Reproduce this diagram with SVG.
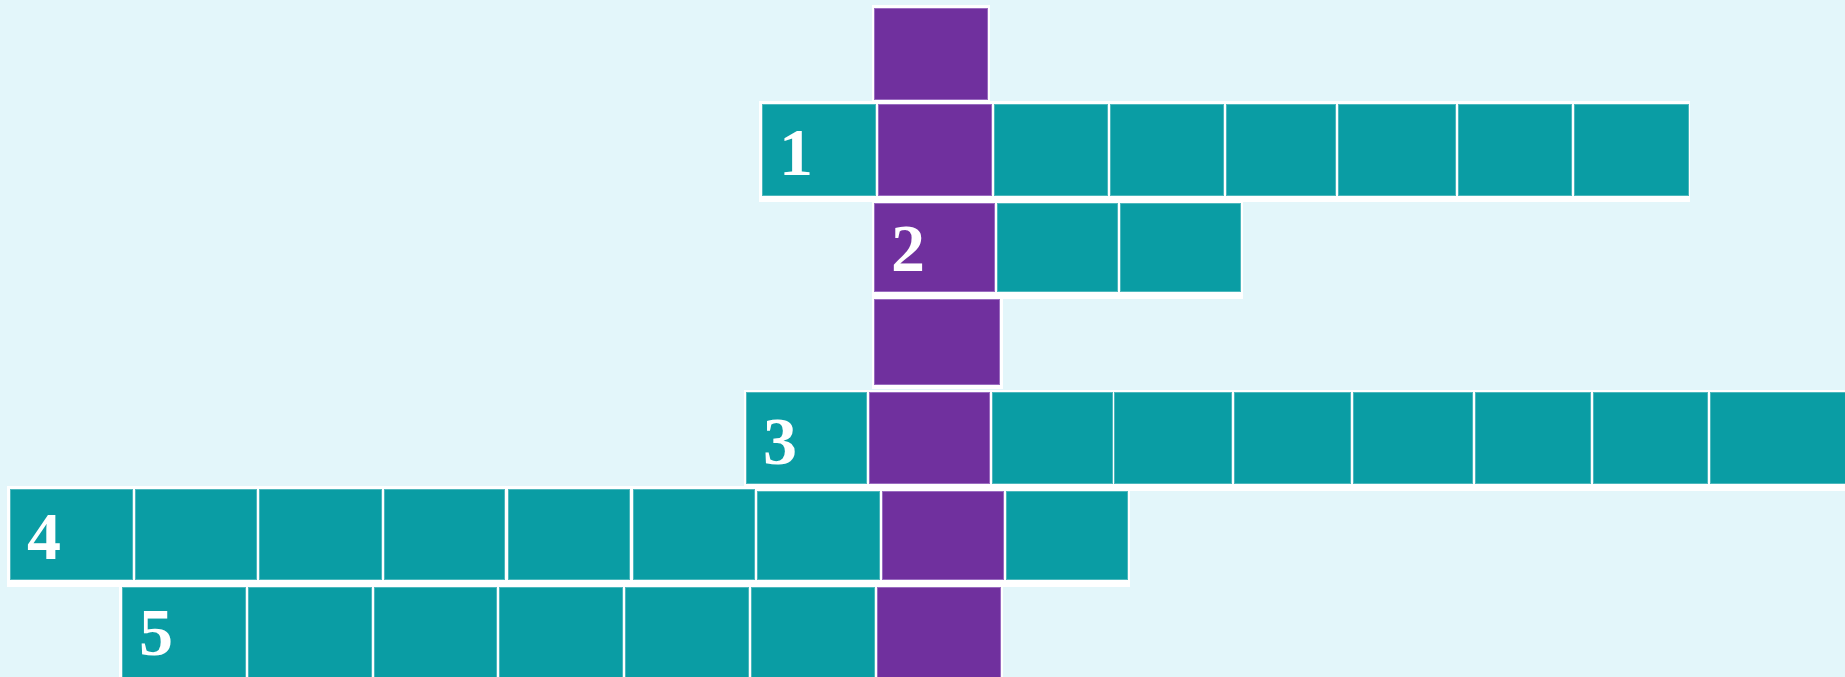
<svg xmlns="http://www.w3.org/2000/svg" width="1845" height="677" viewBox="0 0 1845 677">
<style>
.bg{fill:#E3F6FA}
.w{fill:#FFFFFF}
.t{fill:#0A9DA4;stroke:#4DB8BD;stroke-width:1}
.p{fill:#70309E;stroke:#9A6CC0;stroke-width:1}
.n{font-family:'Liberation Serif','Times New Roman',serif;font-weight:700;font-size:68px;fill:#FFFFFF;text-anchor:middle}
</style>
<rect class="bg" x="0" y="0" width="1845" height="677"/>
<g id="backing">
<rect class="w" x="872" y="5" width="118" height="102"/>
<rect class="w" x="759" y="101" width="931" height="101"/>
<rect class="w" x="872" y="200" width="371" height="99"/>
<rect class="w" x="872" y="296" width="131" height="93"/>
<rect class="w" x="744" y="390" width="1101" height="101"/>
<rect class="w" x="7" y="486" width="1123" height="101"/>
<rect class="w" x="119" y="584" width="884" height="93"/>
</g>
<g id="top-cell">
<rect class="p" x="874.5" y="8.5" width="113" height="91"/>
</g>
<g id="word-1">
<rect class="t" x="762.5" y="104.5" width="113" height="91"/>
<rect class="p" x="878.5" y="104.5" width="113" height="91"/>
<rect class="t" x="994.5" y="104.5" width="113" height="91"/>
<rect class="t" x="1110.5" y="104.5" width="113" height="91"/>
<rect class="t" x="1226.5" y="104.5" width="109" height="91"/>
<rect class="t" x="1338.5" y="104.5" width="117" height="91"/>
<rect class="t" x="1458.5" y="104.5" width="113" height="91"/>
<rect class="t" x="1574.5" y="104.5" width="114" height="91"/>
<text class="n" x="796" y="175">1</text>
</g>
<g id="word-2">
<rect class="p" x="874.5" y="203.5" width="120" height="88"/>
<rect class="t" x="997.5" y="203.5" width="120" height="88"/>
<rect class="t" x="1120.5" y="203.5" width="120" height="88"/>
<text class="n" x="908" y="271">2</text>
</g>
<g id="link-cell">
<rect class="p" x="874.5" y="299.5" width="125" height="85"/>
</g>
<g id="word-3">
<rect class="t" x="746.5" y="392.5" width="120" height="91"/>
<rect class="p" x="869.5" y="392.5" width="120" height="91"/>
<rect class="t" x="992.5" y="392.5" width="120" height="91"/>
<rect class="t" x="1114.5" y="392.5" width="117" height="91"/>
<rect class="t" x="1234.5" y="392.5" width="116" height="91"/>
<rect class="t" x="1353.5" y="392.5" width="119" height="91"/>
<rect class="t" x="1475.5" y="392.5" width="115" height="91"/>
<rect class="t" x="1593.5" y="392.5" width="114" height="91"/>
<rect class="t" x="1710.5" y="392.5" width="140" height="91"/>
<text class="n" x="780" y="464">3</text>
</g>
<g id="word-4">
<rect class="t" x="10.5" y="489.5" width="122" height="90"/>
<rect class="t" x="135.5" y="489.5" width="121" height="90"/>
<rect class="t" x="259.5" y="489.5" width="122" height="90"/>
<rect class="t" x="384.5" y="489.5" width="120" height="90"/>
<rect class="t" x="508.5" y="489.5" width="121" height="90"/>
<rect class="t" x="633.5" y="489.5" width="121" height="90"/>
<rect class="t" x="757.5" y="491.5" width="122" height="88"/>
<rect class="p" x="882.5" y="491.5" width="121" height="88"/>
<rect class="t" x="1006.5" y="491.5" width="121" height="88"/>
<text class="n" x="44" y="559">4</text>
</g>
<g id="word-5">
<rect class="t" x="122.5" y="587.5" width="123" height="95"/>
<rect class="t" x="248.5" y="587.5" width="123" height="95"/>
<rect class="t" x="374.5" y="587.5" width="122" height="95"/>
<rect class="t" x="499.5" y="587.5" width="123" height="95"/>
<rect class="t" x="625.5" y="587.5" width="123" height="95"/>
<rect class="t" x="751.5" y="587.5" width="123" height="95"/>
<rect class="p" x="877.5" y="587.5" width="123" height="95"/>
<text class="n" x="156" y="655">5</text>
</g>
</svg>
